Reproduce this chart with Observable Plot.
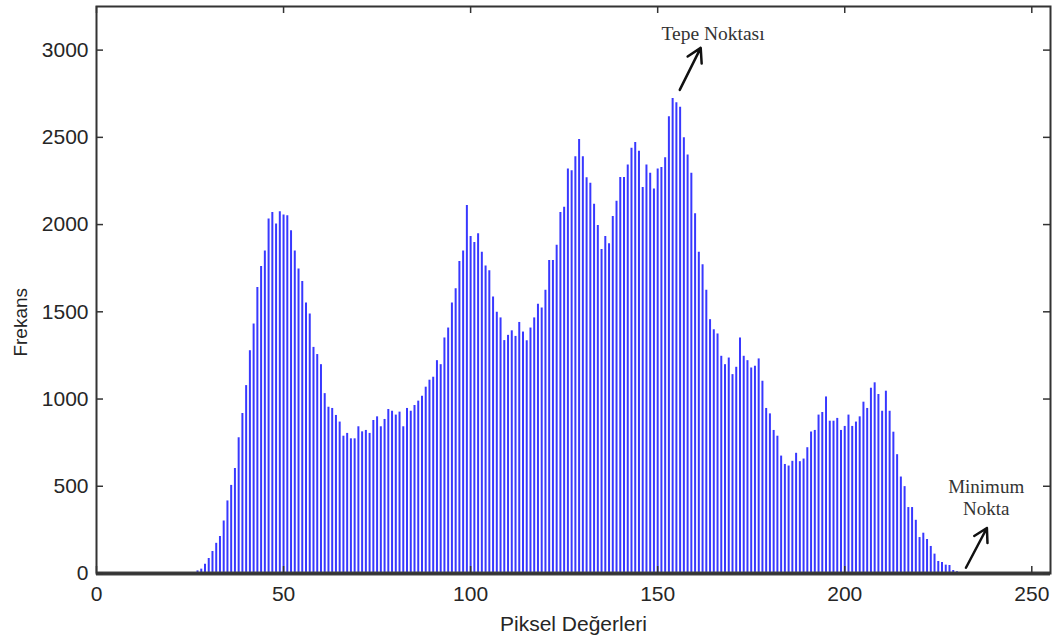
<!DOCTYPE html>
<html>
<head>
<meta charset="utf-8">
<script src="https://cdn.jsdelivr.net/npm/d3@7"></script>
<script src="https://cdn.jsdelivr.net/npm/@observablehq/plot@0.6"></script>
<style>
  html, body { margin: 0; padding: 0; background: #fff; overflow: hidden; }
</style>
</head>
<body>
<div id="chart"></div>
<script>
// ---- data ----
const firstPixel = 27;
const frequencies = [
  15, 25, 53, 86, 126, 173, 212, 301, 416, 505,            // 27-36
  602, 778, 917, 1077, 1277, 1430, 1640, 1760, 1849, 2032,  // 37-46
  2069, 2004, 2074, 2055, 2051, 1964, 1849, 1745, 1674, 1550, // 47-56
  1487, 1296, 1255, 1197, 1031, 953, 946, 906, 868, 787,    // 57-66
  803, 772, 772, 841, 812, 820, 803, 877, 898, 841,         // 67-76
  883, 940, 930, 908, 925, 841, 946, 930, 963, 988,         // 77-86
  1016, 1068, 1108, 1125, 1220, 1197, 1350, 1407, 1550, 1632, // 87-96
  1788, 1849, 2109, 1931, 1897, 1947, 1842, 1762, 1736, 1585, // 97-106
  1498, 1465, 1335, 1365, 1391, 1359, 1439, 1384, 1334, 1407, // 107-116
  1465, 1544, 1522, 1623, 1794, 1794, 1882, 2069, 2100, 2318, // 117-126
  2308, 2389, 2488, 2389, 2269, 2237, 2116, 1994, 1857, 1931, // 127-136
  1890, 2046, 2134, 2270, 2270, 2341, 2437, 2470, 2421, 2212, // 137-146
  2341, 2294, 2204, 2318, 2327, 2383, 2618, 2722, 2698, 2673, // 147-156
  2498, 2399, 2294, 2062, 1841, 1770, 1624, 1455, 1397, 1373, // 157-166
  1245, 1197, 1235, 1140, 1182, 1350, 1245, 1220, 1178, 1188, // 167-176
  1230, 1102, 946, 915, 820, 787, 673, 625, 616, 643,       // 177-186
  689, 641, 656, 721, 811, 820, 908, 923, 1012, 873,        // 187-196
  873, 889, 820, 843, 908, 843, 868, 898, 982, 946,         // 197-206
  1062, 1093, 1026, 930, 1045, 930, 810, 681, 553, 498,     // 207-216
  378, 378, 305, 206, 231, 195, 155, 111, 69, 63,           // 217-226
  48, 46, 17, 10                                            // 227-230
];
const pixelValues = frequencies.map((_, i) => firstPixel + i);

const xTicks = [0, 50, 100, 150, 200, 250];
const yTicks = [0, 500, 1000, 1500, 2000, 2500, 3000];
const xDomain = [0, 255];
const yDomain = [0, 3250];
const xLabel = "Piksel Değerleri";
const yLabel = "Frekans";

const peakLabel = "Tepe Noktası";
const peakLabelPos = {x: 164.8, y: 3092};
const peakArrow = {x1: 155.9, y1: 2772, x2: 161.5, y2: 3013};

const minLabel = "Minimum\nNokta";
const minLabelPos = {x: 237.8, y: 436};
const minArrow = {x1: 232.4, y1: 33, x2: 238.0, y2: 261};

const yLabelAt = 1440;

const table = pixelValues.map((p, i) => ({pixel: p, count: frequencies[i]}));

// ---- layout / style ----
const W = 1057, H = 641;
const mL = 96, mR = 7, mT = 6, mB = 68;
const plotW = W - mL - mR, plotH = H - mT - mB;
const tickLen = 7;
const axisColor = "#333";
const textColor = "#262626";
const serif = "'Liberation Serif', 'Times New Roman', serif";

const chart = Plot.plot({
  width: W,
  height: H,
  marginLeft: mL,
  marginRight: mR,
  marginTop: mT,
  marginBottom: mB,
  x: {domain: xDomain, axis: null},
  y: {domain: yDomain, axis: null},
  style: {
    fontFamily: "'Liberation Sans', Arial, sans-serif",
    fontSize: "21px",
    background: "#fff",
    color: textColor
  },
  marks: [
    // histogram stems
    Plot.ruleX(table, {x: "pixel", y1: 0, y2: "count", stroke: "#3838ff", strokeWidth: 2}),
    // baseline
    Plot.ruleY([0], {stroke: "#444", strokeWidth: 4}),
    // box
    Plot.frame({stroke: axisColor, strokeWidth: 2}),
    // inward ticks bottom/top
    Plot.tickX(xTicks, {x: d => d, stroke: axisColor, strokeWidth: 1.5, insetTop: plotH - tickLen}),
    Plot.tickX(xTicks, {x: d => d, stroke: axisColor, strokeWidth: 1.5, insetBottom: plotH - tickLen}),
    // inward ticks left/right
    Plot.tickY(yTicks, {y: d => d, stroke: axisColor, strokeWidth: 1.5, insetRight: plotW - tickLen}),
    Plot.tickY(yTicks, {y: d => d, stroke: axisColor, strokeWidth: 1.5, insetLeft: plotW - tickLen}),
    // tick labels
    Plot.text(xTicks, {x: d => d, frameAnchor: "bottom", dy: 21, text: d => String(d), fill: textColor, lineAnchor: "middle"}),
    Plot.text(yTicks, {y: d => d, frameAnchor: "left", dx: -8, text: d => String(d), fill: textColor, textAnchor: "end"}),
    // axis labels
    Plot.text([xLabel], {x: (xDomain[0] + xDomain[1]) / 2, frameAnchor: "bottom", dy: 51, text: d => d, fill: textColor, fontSize: 21, lineAnchor: "middle"}),
    Plot.text([yLabel], {x: xDomain[0], y: yLabelAt, dx: -76, rotate: -90, text: d => d, fill: textColor, fontSize: 19, textAnchor: "middle"}),
    // annotations
    Plot.text([peakLabel], {x: peakLabelPos.x, y: peakLabelPos.y, text: d => d, fontFamily: serif, fontSize: 19.5, fill: "#333"}),
    Plot.arrow([peakArrow], {x1: "x1", y1: "y1", x2: "x2", y2: "y2", stroke: "#111", strokeWidth: 2.5, headLength: 10}),
    Plot.text([minLabel], {x: minLabelPos.x, y: minLabelPos.y, text: d => d, fontFamily: serif, fontSize: 19, lineHeight: 1.16, fill: "#333"}),
    Plot.arrow([minArrow], {x1: "x1", y1: "y1", x2: "x2", y2: "y2", stroke: "#111", strokeWidth: 2.5, headLength: 10})
  ]
});

document.getElementById("chart").appendChild(chart);
</script>
</body>
</html>
